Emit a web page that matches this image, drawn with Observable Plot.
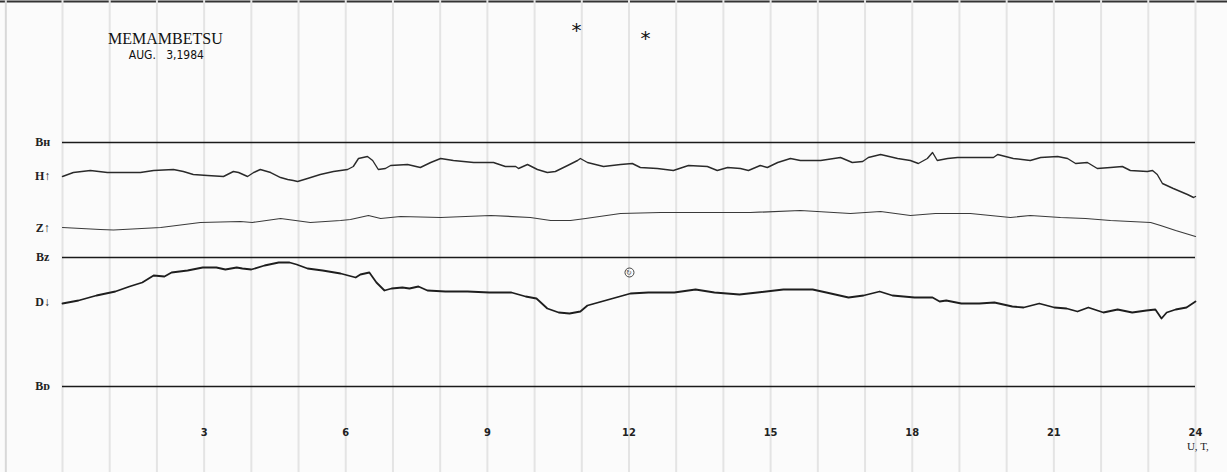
<!DOCTYPE html>
<html>
<head>
<meta charset="utf-8">
<script src="https://cdn.jsdelivr.net/npm/d3@7"></script>
<script src="https://cdn.jsdelivr.net/npm/@observablehq/plot@0.6"></script>
<style>
  html, body { margin: 0; padding: 0; background: #fbfbfb; }
  #chart svg { display: block; background: #fbfbfb; }
</style>
</head>
<body>
<div id="chart"></div>
<script>
// Hours (UT) and trace deflections (chart units above the D baseline)
const hHours = [0.00,0.23,0.59,0.95,1.38,1.65,1.93,2.35,2.56,2.77,3.07,3.41,3.62,3.73,3.92,4.05,4.19,4.41,4.62,4.77,4.89,4.98,5.19,5.46,5.74,6.04,6.16,6.27,6.46,6.57,6.69,6.84,6.95,7.31,7.58,7.80,8.01,8.28,8.71,9.13,9.38,9.60,9.66,9.85,10.06,10.27,10.44,10.70,10.91,10.97,11.12,11.46,11.82,12.07,12.24,12.60,12.94,13.26,13.66,13.87,14.09,14.36,14.53,14.78,14.93,15.15,15.42,15.63,16.06,16.48,16.73,16.95,17.07,17.33,17.69,17.96,18.13,18.32,18.43,18.53,18.75,18.96,19.38,19.72,19.81,20.14,20.50,20.72,21.08,21.29,21.46,21.71,21.92,22.20,22.45,22.62,22.98,23.09,23.19,23.30,23.53,23.83,23.96,24.00];
const hValues = [210,214,216,214,214,214,216,217,215,212,211,210,215,214,210,214,217,214,209,207,206,205,208,212,215,217,220,228,230,226,217,218,221,222,219,224,228,226,224,224,220,220,218,222,217,214,215,221,226,228,224,220,222,223,219,218,216,221,220,216,219,218,216,221,219,224,228,226,226,229,224,225,229,232,228,226,223,228,234,226,228,229,229,229,232,228,226,229,230,228,223,224,218,219,220,216,215,216,212,203,198,192,189,190];

const zHours = [0.00,0.80,1.08,2.08,2.92,3.77,4.02,4.62,5.25,5.89,6.10,6.48,6.74,7.16,8.01,9.07,9.91,10.34,10.76,11.08,11.82,12.67,13.51,14.57,15.63,16.69,17.33,17.96,18.49,19.23,20.08,20.50,21.14,21.67,22.20,23.05,23.26,23.58,24.00];
const zValues = [159,157,156.5,159,164,165,164,168,164,166,167,171,168,170,169,171,169,166,166,168,173,174,174,174,176,173,175,171,173,173,169,171,169,168,166,164,161,156,150];

const dHours = [0.00,0.34,0.72,1.12,1.42,1.69,1.93,2.16,2.31,2.65,2.97,3.26,3.45,3.69,3.81,4.00,4.28,4.58,4.81,4.96,5.19,5.51,5.89,6.21,6.31,6.50,6.65,6.82,6.97,7.20,7.35,7.54,7.73,8.11,8.58,9.04,9.51,9.81,10.04,10.27,10.51,10.74,10.97,11.12,11.50,12.03,12.41,12.96,13.41,13.81,14.34,14.72,15.27,15.89,16.18,16.65,16.97,17.31,17.58,18.05,18.43,18.58,18.72,19.04,19.42,19.74,20.12,20.36,20.69,21.01,21.27,21.50,21.73,22.05,22.35,22.66,22.96,23.15,23.28,23.39,23.58,23.81,24.00];
const dValues = [83,86,91,95,100,104,111,110,114,116,119,119,117,119,118,117,121,124,124,122,118,116,113,109,112,114,104,96,98,99,98,100,96,95,95,94,94,90,88,78,74,73,75,81,86,93,94,94,97,94,92,94,97,97,94,89,91,95,91,89,89,85,86,83,83,84,80,79,83,79,78,75,79,74,77,74,76,77,68,74,77,79,85];

// Baselines (B_H, B_Z, B_D) levels
const baseNames = ["Bʜ", "Bᴢ", "Bᴅ"];
const baseLevels = [244, 129, 0];

// Trace labels
const traceNames = ["H↑", "Z↑", "D↓"];
const traceLevels = [210, 158, 84];

// Tick labels
const tickHours = [3, 6, 9, 12, 15, 18, 21, 24];
const tickLabels = ["3", "6", "9", "12", "15", "18", "21", "24"];
const gridHours = d3.range(0, 25);

const toRows = (hs, vs) => hs.map((h, i) => ({hour: h, value: vs[i]}));
const H = toRows(hHours, hValues);
const Z = toRows(zHours, zValues);
const D = toRows(dHours, dValues);
const bases = baseNames.map((n, i) => ({name: n, level: baseLevels[i]}));
const traces = traceNames.map((n, i) => ({name: n, level: traceLevels[i]}));
const ticks = tickHours.map((h, i) => ({hour: h, label: tickLabels[i]}));

const serif = "'Liberation Serif', 'DejaVu Serif', serif";
const narrow = "'Liberation Sans Narrow', 'DejaVu Sans Condensed', 'Liberation Sans', sans-serif";

const chart = Plot.plot({
  width: 1227,
  height: 472,
  marginLeft: 62,
  marginRight: 32,
  marginTop: 0,
  marginBottom: 0,
  x: {domain: [0, 24], axis: null},
  y: {domain: [-86, 386], axis: null},
  style: {background: "#fbfbfb"},
  marks: [
    // paper edges
    Plot.ruleY([385], {x1: -1.32, x2: 24.7, stroke: "#333", strokeWidth: 2}),
    Plot.ruleX([-1.2], {stroke: "#d8d8d8", strokeWidth: 2}),
    // hourly vertical grid
    Plot.ruleX(gridHours, {stroke: "#e4e4e4", strokeWidth: 2}),
    // baselines
    Plot.ruleY(bases, {y: "level", x1: 0, x2: 24, stroke: "#1a1a1a", strokeWidth: 1.7}),
    // traces
    Plot.line(H, {x: "hour", y: "value", stroke: "#2a2a2a", strokeWidth: 1.4}),
    Plot.line(Z, {x: "hour", y: "value", stroke: "#3a3a3a", strokeWidth: 1.2}),
    Plot.line(D, {x: "hour", y: "value", stroke: "#1e1e1e", strokeWidth: 1.8}),
    // left labels
    Plot.text(bases, {x: -0.42, y: "level", text: "name", fontFamily: serif, fontWeight: "bold", fontSize: 12, fill: "#222"}),
    Plot.text(traces, {x: -0.42, y: "level", text: "name", fontFamily: serif, fontWeight: "bold", fontSize: 12, fill: "#222"}),
    // time tick labels
    Plot.text(ticks, {x: "hour", y: -46, text: "label", fontFamily: narrow, fontWeight: "bold", fontSize: 11, fill: "#222"}),
    Plot.text(["U, T,"], {x: 24.05, y: -60, fontFamily: serif, fontSize: 11, fill: "#222"}),
    // title
    Plot.text(["MEMAMBETSU"], {x: 2.18, y: 348, fontFamily: serif, fontSize: 16, fill: "#111"}),
    Plot.text(["AUG.   3,1984"], {x: 2.2, y: 331, fontFamily: narrow, fontSize: 12, fill: "#111"}),
    // annotations
    Plot.text(["*", "*"], {x: [10.89, 12.35], y: [356, 348], fontFamily: "'DejaVu Sans', sans-serif", fontSize: 20, fill: "#111"}),
    Plot.dot([{hour: 12.01, value: 114}], {x: "hour", y: "value", r: 4.5, stroke: "#444", strokeWidth: 1, fill: "none"}),
    Plot.text(["↻"], {x: 12.01, y: 114, fontSize: 7, fill: "#444"})
  ]
});
document.getElementById("chart").appendChild(chart);
</script>
</body>
</html>
